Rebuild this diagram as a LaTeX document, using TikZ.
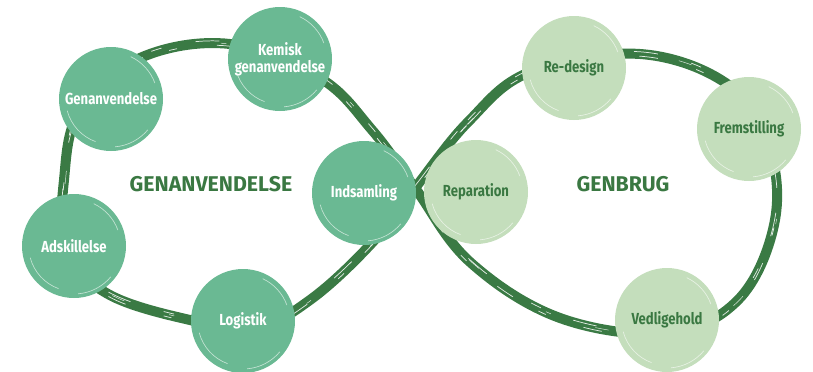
\documentclass[tikz,border=0pt]{standalone}
\usepackage{fontspec}
\setmainfont{Fira Sans}
\newfontfamily\labfont{Fira Sans}[FakeStretch=0.82]
\newfontfamily\titfont{Fira Sans}
\usetikzlibrary{calc}
\definecolor{ringgreen}{RGB}{58,122,68}
\definecolor{midgreen}{RGB}{106,185,147}
\definecolor{lightgreen}{RGB}{196,222,188}
\definecolor{textdark}{RGB}{58,120,66}
\tikzset{
  ballA/.style={circle, fill=midgreen, minimum size=78pt, inner sep=0pt, align=center,
    text=white, font=\labfont\bfseries\fontsize{12}{12.5}\selectfont},
  ballB/.style={circle, fill=lightgreen, minimum size=78pt, inner sep=0pt, align=center,
    text=textdark, font=\labfont\bfseries\fontsize{12}{12.5}\selectfont},
  title/.style={text=textdark, font=\titfont\bfseries\fontsize{16}{17}\selectfont},
  ring/.style={draw=ringgreen, line width=7.5pt, line cap=round},
  streak/.style={draw=white, line width=0.55pt, opacity=0.85},
  shine/.style={draw=white, line width=0.5pt, opacity=0.6}
}
\begin{document}
\begin{tikzpicture}[x=0.75pt,y=-0.75pt]
\useasboundingbox (0,0) rectangle (813,371);
% figure-eight ring
\def\ringpath{plot[smooth cycle, tension=0.62] coordinates {
  (415,188) (468,122) (530,72) (640,54) (730,86) (770,150) (774,225) (738,300)
  (667,333) (560,318) (470,262)
  (415,188)
  (372,130) (320,78) (230,44) (140,58) (80,110) (64,180) (66,250)
  (108,294) (190,320) (255,328) (310,300) (370,245)}}
\path[ring] \ringpath;
\begin{scope}[shift={(0,2.2)}]
  \path[streak, dash pattern=on 14pt off 30pt on 6pt off 22pt] \ringpath;
\end{scope}
\begin{scope}[shift={(0,-2.2)}]
  \path[streak, dash pattern=on 8pt off 40pt on 18pt off 26pt] \ringpath;
\end{scope}
\begin{scope}[shift={(1.5,0)}]
  \path[streak, line width=0.35pt, dash pattern=on 4pt off 60pt on 10pt off 35pt] \ringpath;
\end{scope}

% circles
\node[ballA] (gen) at (111,99) {Genanvendelse};
\node[ballA] (kem) at (280,59) {Kemisk\\genanvendelse};
\node[ballA] (ind) at (364,193) {Indsamling};
\node[ballA] (ads) at (74,246) {Adskillelse};
\node[ballA] (log) at (243,321) {Logistik};
\node[ballB] (red) at (574,68) {Re-design};
\node[ballB] (fre) at (749,129) {Fremstilling};
\node[ballB] (rep) at (476,192) {Reparation};
\node[ballB] (ved) at (667,320) {Vedligehold};

% subtle brush highlights
\foreach \n in {gen,kem,ind,ads,log,red,fre,rep,ved}{
  \draw[shine] ($(\n.center)+(195:34pt)$) arc[start angle=195, end angle=250, radius=34pt];
  \draw[shine] ($(\n.center)+(20:35pt)$) arc[start angle=20, end angle=65, radius=35pt];
  \draw[shine] ($(\n.center)+(275:36pt)$) arc[start angle=275, end angle=320, radius=36pt];
}

\node[title] (t1) at (211,184) {GENANVENDELSE};
\node[title] (t2) at (623,184) {GENBRUG};
\end{tikzpicture}
\end{document}
